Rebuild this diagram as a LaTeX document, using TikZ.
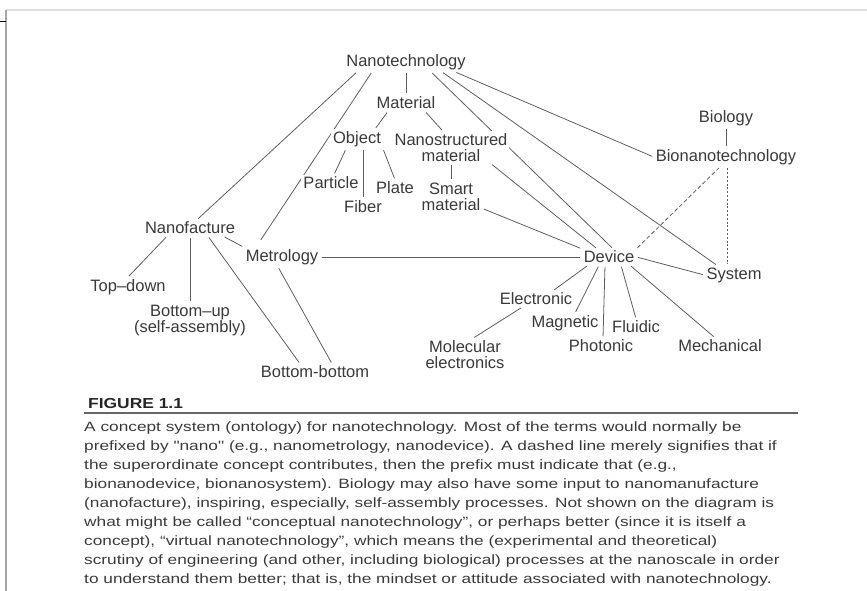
\documentclass[tikz,border=0pt]{standalone}
\usepackage{fontspec}
\setmainfont{Liberation Sans}
\newfontfamily\capfont[FakeStretch=1.28]{Liberation Sans}
\newfontfamily\figfont[FakeStretch=1.2]{Liberation Sans}
\usetikzlibrary{positioning, backgrounds}
\definecolor{InkGray}{HTML}{3A3A3A}
\definecolor{LineGray}{HTML}{5E5E5E}

\begin{document}
\begin{tikzpicture}[
            on grid,
            concept/.style={inner sep=2pt, align=center, text=InkGray, fill=white,
                font=\fontsize{16.5}{16}\selectfont},
            link/.style={draw=LineGray, line width=0.8pt, shorten <=1.5pt, shorten >=1.5pt},
            dashlink/.style={link, dash pattern=on 4pt off 2.5pt},
            dotlink/.style={link, dash pattern=on 2pt off 1.8pt},
            caption/.style={inner sep=0pt, align=left, text=InkGray,
                font=\capfont\fontsize{13.5}{18.9}\selectfont},
            figlabel/.style={inner sep=0pt, text=black!85,
                font=\figfont\bfseries\fontsize{14.5}{14.5}\selectfont},
            rule/.style={draw=black!60, line width=1.2pt}
        ]
        \useasboundingbox (0pt,0pt) rectangle (867pt,-591pt);

        % --- screenshot frame ---
        \draw[black!12, line width=2pt] (6pt,-10pt) -- (867pt,-10pt);
        \draw[black!35, line width=2pt] (6pt,-10pt) -- (6pt,-591pt);
        \draw[black, line width=1.2pt] (0pt,-21.5pt) -- (6pt,-21.5pt);

        % --- Material branch ---
        \node[concept] (nano) at (406pt,-62pt) {Nanotechnology};
        \node[concept] (mat) [below=41pt of nano] {Material};
        \node[concept] (obj) [below left=36pt and 49pt of mat] {Object};
        \node[concept] (nmat) [below right=44.5pt and 45pt of mat] {Nanostructured\\material};
        \node[concept] (part) [below left=44pt and 26pt of obj] {Particle};
        \node[concept] (plate) [below right=49pt and 38pt of obj] {Plate};
        \node[concept] (fib) [below right=68pt and 6pt of obj] {Fiber};
        \node[concept] (smart) [below=49pt of nmat] {Smart\\material};

        % --- Nanofacture / metrology ---
        \node[concept] (nfac) [below left=166pt and 216pt of nano] {Nanofacture};
        \node[concept] (metro) [below right=29pt and 92pt of nfac] {Metrology};
        \node[concept] (topd) [below left=59pt and 62pt of nfac] {Top–down};
        \node[concept] (bup) [below=92.5pt of nfac] {Bottom–up\\(self-assembly)};
        \node[concept] (bbot) [below right=115pt and 33pt of metro] {Bottom-bottom};

        % --- Device / system / biology ---
        \node[concept] (dev) [right=327pt of metro] {Device};
        \node[concept] (sys) [below right=18pt and 125pt of dev] {System};
        \node[concept] (bionano) [above right=100pt and 117pt of dev] {Bionanotechnology};
        \node[concept] (bio) [above=39pt of bionano] {Biology};
        \node[concept] (elec) [below left=42pt and 73pt of dev] {Electronic};
        \node[concept] (mag) [below left=66pt and 44pt of dev] {Magnetic};
        \node[concept] (phot) [below left=89pt and 8pt of dev] {Photonic};
        \node[concept] (fluid) [below right=70pt and 27pt of dev] {Fluidic};
        \node[concept] (mech) [below right=89pt and 111pt of dev] {Mechanical};
        \node[concept] (mol) [below left=55.5pt and 71pt of elec] {Molecular\\electronics};

        \begin{pgfonlayer}{background}
        % --- Links from the root ---
        \path[link] (nano.south) -- (mat.north);
        \path[link] ([xshift=-49pt]nano.south) -- ([xshift=7pt]nfac.north);
        \path[link] ([xshift=-34pt]nano.south) -- ([xshift=-22pt,yshift=6pt]metro.north);
        \path[link] ([xshift=25pt]nano.south) -- ([xshift=4pt]dev.north);
        \path[link] ([xshift=36pt]nano.south) -- ([xshift=-17pt]sys.north);
        \path[link] ([xshift=49pt]nano.south) -- (bionano.west);

        % --- Material subtree ---
        \path[link] ([xshift=-18pt]mat.south) -- ([xshift=18pt]obj.north);
        \path[link] ([xshift=19pt]mat.south) -- ([xshift=-8pt]nmat.north);
        \path[link] ([xshift=-11pt]obj.south) -- ([xshift=3pt]part.north);
        \path[link] ([xshift=6pt]obj.south) -- (fib.north);
        \path[link] (obj.south east) -- (plate.north);
        \path[link] (nmat.south) -- (smart.north);
        \path[link] ([xshift=40pt]nmat.south) -- ([xshift=-12pt]dev.north);
        \path[link] ([yshift=4pt]smart.south east) -- (dev.north west);

        % --- Nanofacture subtree ---
        \path[link] ([xshift=-14pt]nfac.south east) -- (metro.north west);
        \path[link] ([xshift=-23pt]nfac.south) -- (topd.north);
        \path[link] (nfac.south) -- (bup.north);
        \path[link] ([xshift=18pt]nfac.south) -- ([xshift=-15pt]bbot.north);
        \path[link] ([xshift=-4pt]metro.south) -- ([xshift=17pt]bbot.north);
        \path[link] (metro.east) -- (dev.west);

        % --- Device subtree ---
        \path[link] (dev.east) -- (sys.west);
        \path[link] ([xshift=-21pt]dev.south) -- ([xshift=17pt]elec.north);
        \path[link] ([xshift=-10pt]dev.south) -- ([xshift=10pt]mag.north);
        \path[link] ([xshift=-4pt]dev.south) -- ([xshift=2pt]phot.north);
        \path[link] ([xshift=12pt]dev.south) -- (fluid.north);
        \path[link] ([xshift=21pt]dev.south) -- ([xshift=-5pt]mech.north);
        \path[link] ([xshift=-14pt]elec.south) -- ([xshift=8pt]mol.north);

        % --- Biology (dashed = optional prefix) ---
        \path[link] (bio.south) -- (bionano.north);
        \path[dashlink] (dev.north east) -- ([xshift=-6pt]bionano.south);
        \path[dotlink] ([xshift=1pt]bionano.south) -- ([xshift=-7pt]sys.north);
        \end{pgfonlayer}

        % --- Caption ---
        \node[figlabel, anchor=base west] (fig) at (88pt,-408pt) {FIGURE 1.1};
        \draw[rule] (84pt,-413pt) -- (798pt,-413pt);
        \node[caption, anchor=north west] (capt) at (84pt,-422pt) {A concept system (ontology) for nanotechnology. Most of the terms would normally be\\
            prefixed by "nano" (e.g., nanometrology, nanodevice). A dashed line merely signifies that if\\
            the superordinate concept contributes, then the prefix must indicate that (e.g.,\\
            bionanodevice, bionanosystem). Biology may also have some input to nanomanufacture\\
            (nanofacture), inspiring, especially, self-assembly processes. Not shown on the diagram is\\
            what might be called “conceptual nanotechnology”, or perhaps better (since it is itself a\\
            concept), “virtual nanotechnology”, which means the (experimental and theoretical)\\
            scrutiny of engineering (and other, including biological) processes at the nanoscale in order\\
            to understand them better; that is, the mindset or attitude associated with nanotechnology.};

\end{tikzpicture}
\end{document}
